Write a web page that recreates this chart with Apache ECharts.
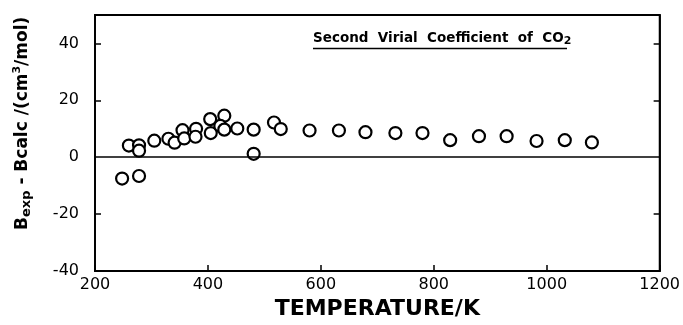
<!DOCTYPE html>
<html>
<head>
<meta charset="utf-8">
<script src="https://cdn.jsdelivr.net/npm/echarts@6/dist/echarts.min.js"></script>
<style>html,body{margin:0;padding:0;background:#fff}#c{width:683px;height:325px}</style>
</head>
<body>
<div id="c"></div>
<script>
const temperatureK = [248, 278, 260, 278, 278, 305, 330, 341, 355, 358, 379, 378, 404, 405, 429, 422, 429, 452, 481, 481, 517, 529, 580, 632, 679, 732, 780, 829, 880, 929, 982, 1032, 1080];
const deltaB = [-7.5, -6.6, 4.1, 4.2, 2.3, 5.8, 6.5, 5.1, 9.5, 6.6, 10.0, 7.2, 13.4, 8.5, 14.6, 11.0, 9.7, 10.1, 9.7, 1.2, 12.2, 9.9, 9.4, 9.4, 8.8, 8.5, 8.5, 6.0, 7.4, 7.4, 5.7, 6.0, 5.2];
const xTicks = [200, 400, 600, 800, 1000, 1200];
const yTicks = [-40, -20, 0, 20, 40];

const chart = echarts.init(document.getElementById('c'), null, {renderer: 'canvas'});
const F = 'DejaVu Sans, sans-serif';
chart.setOption({
  animation: false,
  backgroundColor: '#fff',
  grid: {left: 95, right: 15, top: 15, bottom: 47, show: true, borderColor: '#000', borderWidth: 1.8, backgroundColor: 'transparent'},
  xAxis: {
    type: 'value', min: 200, max: 1200, interval: 200,
    axisLine: {show: true, onZero: false, lineStyle: {color: '#000', width: 1.8}},
    axisTick: {show: true, inside: true, length: 6, lineStyle: {color: '#000', width: 1.5}},
    axisLabel: {color: '#000', fontFamily: F, fontSize: 16, margin: 6, formatter: v => xTicks.includes(v) ? String(v) : ''},
    splitLine: {show: false},
    name: 'TEMPERATURE/K', nameLocation: 'middle', nameGap: 27,
    nameTextStyle: {color: '#000', fontFamily: F, fontSize: 22, fontWeight: 'bold', padding: [0, 0, 0, 0]}
  },
  yAxis: [{
    type: 'value', min: -40, max: 50, interval: 10,
    axisLine: {show: true, onZero: false, lineStyle: {color: '#000', width: 1.8}},
    axisTick: {show: true, inside: true, length: 6, lineStyle: {color: '#000', width: 1.5},
      customValues: [-40, -20, 20, 40]},
    axisLabel: {color: '#000', fontFamily: F, fontSize: 16, margin: 16, customValues: yTicks, formatter: v => String(v)},
    splitLine: {show: false}
  }, {
    type: 'value', min: -40, max: 50, interval: 10, position: 'right',
    axisLine: {show: true, lineStyle: {color: '#000', width: 1.8}},
    axisTick: {show: true, inside: true, length: 6, lineStyle: {color: '#000', width: 1.5}, customValues: [-20, 20, 40]},
    axisLabel: {show: false},
    splitLine: {show: false}
  }],
  series: [{
    type: 'scatter',
    data: temperatureK.map((t, i) => [t, deltaB[i]]),
    symbol: 'circle', symbolSize: 12,
    itemStyle: {color: '#fff', borderColor: '#000', borderWidth: 2.2, opacity: 1},
    z: 3,
    markLine: {
      silent: true, symbol: 'none', label: {show: false}, animation: false,
      lineStyle: {color: '#000', width: 1.6, type: 'solid'},
      data: [{yAxis: 0}]
    }
  }],
  graphic: [
    {
      type: 'text', rotation: Math.PI / 2, originX: 0, originY: 0,
      x: 12, y: 230,
      style: {
        text: '{b|B}{s|exp}{n| - }{b|Bcalc /(cm}{p|3}{b|/mol)}',
        rich: {
          b: {fontFamily: F, fontSize: 17, fontWeight: 'bold', fill: '#000'},
          n: {fontFamily: F, fontSize: 17, fontWeight: 'bold', fill: '#000'},
          s: {fontFamily: F, fontSize: 13, fontWeight: 'bold', fill: '#000', padding: [8, 0, 0, 0]},
          p: {fontFamily: F, fontSize: 11, fontWeight: 'bold', fill: '#000', padding: [0, 0, 10, 0]}
        }
      }
    },
    {
      type: 'text', left: 313, top: 31,
      style: {
        text: '{t|Second  Virial  Coefficient  of  CO}{u|2}',
        rich: {
          t: {fontFamily: F, fontSize: 13.5, fontWeight: 'bold', fill: '#000'},
          u: {fontFamily: F, fontSize: 11, fontWeight: 'bold', fill: '#000', padding: [7, 0, 0, 0]}
        }
      }
    },
    {
      type: 'line', shape: {x1: 313, y1: 48.5, x2: 567, y2: 48.5},
      style: {stroke: '#000', lineWidth: 1.4}
    }
  ]
});
</script>
</body>
</html>
